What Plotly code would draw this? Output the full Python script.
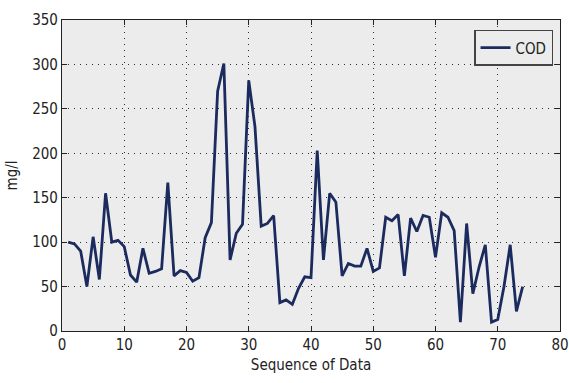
import plotly.graph_objects as go

seq = list(range(1, 75))
cod = [100, 98, 90, 50, 106, 58, 155, 100, 102, 95,
       63, 55, 93, 65, 67, 70, 167, 62, 68, 66,
       56, 60, 105, 122, 270, 301, 80, 110, 120, 282,
       230, 118, 121, 130, 32, 35, 30, 48, 61, 60,
       203, 80, 155, 145, 62, 76, 73, 73, 93, 67,
       71, 128, 124, 131, 62, 127, 112, 130, 128, 83,
       133, 128, 113, 10, 121, 42, 72, 97, 10, 13,
       50, 97, 22, 50]

x_ticks = [0, 10, 20, 30, 40, 50, 60, 70, 80]
y_ticks = [0, 50, 100, 150, 200, 250, 300, 350]

FONT = "Liberation Sans Narrow, DejaVu Sans Condensed, Arial Narrow, sans-serif"

fig = go.Figure()
fig.add_trace(go.Scatter(x=seq, y=cod, mode="lines", name="COD",
                         line=dict(color="#1b2b5e", width=2.8)))

axis_common = dict(
    showline=True, linecolor="#222", linewidth=1.2, mirror="ticks",
    ticks="inside", ticklen=5, tickcolor="#222", tickwidth=1,
    showgrid=True, gridcolor="rgba(0,0,0,0.8)", griddash="1px,5px", gridwidth=1,
    zeroline=False, ticklabeloverflow="allow", automargin=False,
    tickfont=dict(family=FONT, size=15, color="#222"),
)

fig.update_layout(
    width=569, height=383,
    margin=dict(l=62, r=9, t=20, b=52),
    paper_bgcolor="white", plot_bgcolor="#ececec",
    font=dict(family=FONT, size=15, color="#222"),
    showlegend=True,
    legend=dict(x=0.986, y=0.968, xanchor="right", yanchor="top",
                bgcolor="#ececec", bordercolor="#444", borderwidth=1.5,
                entrywidth=96, entrywidthmode="pixels",
                font=dict(family=FONT, size=15, color="#222")),
    xaxis=dict(range=[0, 80], tickvals=x_ticks,
               title=dict(text="Sequence of Data", standoff=6,
                          font=dict(family=FONT, size=15, color="#222")),
               **axis_common),
    yaxis=dict(range=[0, 350], tickvals=y_ticks,
               title=dict(text="mg/l", standoff=10,
                          font=dict(family=FONT, size=15, color="#222")),
               **axis_common),
)

fig.write_html("out.html", config={"displayModeBar": False},
               post_script="document.body.style.margin='0';document.body.style.overflow='hidden';")
